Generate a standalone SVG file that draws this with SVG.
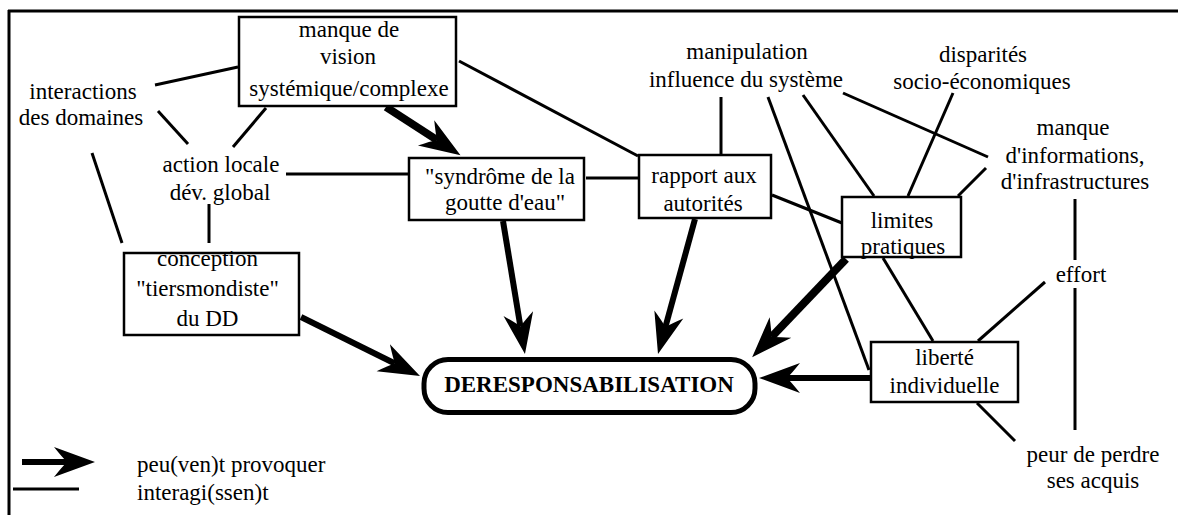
<svg xmlns="http://www.w3.org/2000/svg" width="1178" height="515" viewBox="0 0 1178 515">
<style>
text{font-family:"Liberation Serif","Times New Roman",serif;font-size:23px;fill:#000;text-anchor:middle}
.box{fill:#fff;stroke:#000;stroke-width:2.5}
.thin{stroke:#000;stroke-width:3;fill:none}
.thick{stroke:#000;stroke-width:6;fill:none;marker-end:url(#ah)}
.thicker{stroke:#000;stroke-width:8;fill:none;marker-end:url(#ah)}
.frame{stroke:#000;stroke-width:3;fill:none}
</style>
<defs>
<marker id="ah" markerUnits="userSpaceOnUse" viewBox="-15 -17 46 34" refX="0" refY="0" markerWidth="46" markerHeight="34" orient="auto" overflow="visible">
<path d="M28,0 L-13,-15 Q-5,-5 0,0 Q-5,5 -13,15 Z" fill="#000"/>
</marker>
</defs>
<rect width="1178" height="515" fill="#fff"/>
<g id="frame">
<line class="frame" x1="8" y1="11" x2="1178" y2="11"/>
<line class="frame" x1="9" y1="10" x2="9" y2="515"/>
</g>
<g id="connectors">
<line class="thin" x1="155" y1="85" x2="238" y2="67"/>
<line class="thin" x1="158" y1="111" x2="188" y2="144"/>
<line class="thin" x1="233" y1="147" x2="266" y2="108"/>
<line class="thin" x1="92" y1="153" x2="122" y2="243"/>
<line class="thin" x1="209" y1="204" x2="209" y2="243"/>
<line class="thin" x1="286" y1="174" x2="408" y2="174"/>
<line class="thin" x1="459" y1="61" x2="638" y2="156"/>
<line class="thin" x1="586" y1="178" x2="639" y2="178"/>
<line class="thin" x1="721" y1="155" x2="721" y2="97"/>
<line class="thin" x1="768" y1="97" x2="869" y2="370"/>
<line class="thin" x1="772" y1="195" x2="842" y2="223"/>
<line class="thin" x1="803" y1="95" x2="874" y2="196"/>
<line class="thin" x1="843" y1="93" x2="988" y2="157"/>
<line class="thin" x1="953" y1="93" x2="908" y2="196"/>
<line class="thin" x1="986" y1="168" x2="958" y2="196"/>
<line class="thin" x1="1075" y1="199" x2="1075" y2="260"/>
<line class="thin" x1="1075" y1="288" x2="1075" y2="430"/>
<line class="thin" x1="883" y1="258" x2="933" y2="341"/>
<line class="thin" x1="1045" y1="282" x2="978" y2="341"/>
<line class="thin" x1="977" y1="403" x2="1015" y2="441"/>
<line class="thicker" x1="386" y1="107" x2="437" y2="140"/>
<line class="thick" x1="503" y1="221" x2="520.4" y2="326.4"/>
<line class="thick" x1="695" y1="219" x2="665.4" y2="327"/>
<line class="thicker" x1="846" y1="259" x2="771.5" y2="336.9"/>
<line class="thick" x1="872" y1="378" x2="787" y2="378"/>
<line class="thick" x1="301" y1="317" x2="394.9" y2="363.5"/>
</g>
<g id="n-manque-vision">
<rect class="box" x="239" y="17" width="217" height="89"/>
<text x="349" y="37">manque de</text>
<text x="348" y="64">vision</text>
<text x="349" y="96">systémique/complexe</text>
</g>
<g id="n-interactions">
<text x="83" y="99">interactions</text>
<text x="81" y="125">des domaines</text>
</g>
<g id="n-action-locale">
<text x="221" y="172">action locale</text>
<text x="220" y="200">dév. global</text>
</g>
<g id="n-syndrome">
<rect class="box" x="409" y="158" width="175" height="62"/>
<text x="500" y="184">"syndrôme de la</text>
<text x="505" y="210">goutte d'eau"</text>
</g>
<g id="n-rapport">
<rect class="box" x="639" y="155" width="132" height="63"/>
<text x="704" y="183">rapport aux</text>
<text x="703" y="211">autorités</text>
</g>
<g id="n-manipulation">
<text x="747" y="59">manipulation</text>
<text x="746" y="87">influence du système</text>
</g>
<g id="n-disparites">
<text x="983" y="62">disparités</text>
<text x="982" y="89">socio-économiques</text>
</g>
<g id="n-manque-info">
<text x="1073" y="135">manque</text>
<text x="1075" y="163">d'informations,</text>
<text x="1075" y="189">d'infrastructures</text>
</g>
<g id="n-limites">
<rect class="box" x="842" y="197" width="119" height="60"/>
<text x="902" y="228">limites</text>
<text x="903" y="254">pratiques</text>
</g>
<g id="n-conception">
<rect class="box" x="124" y="253" width="175" height="82"/>
<text x="207.5" y="266">conception</text>
<text x="207.5" y="296">"tiersmondiste"</text>
<text x="207.5" y="326">du DD</text>
</g>
<g id="n-effort">
<text x="1081" y="282">effort</text>
</g>
<g id="n-liberte">
<rect class="box" x="871" y="342" width="147" height="60"/>
<text x="944.5" y="365">liberté</text>
<text x="944.5" y="393">individuelle</text>
</g>
<g id="n-peur">
<text x="1093" y="462">peur de perdre</text>
<text x="1093" y="488">ses acquis</text>
</g>
<g id="n-deresponsabilisation">
<rect x="424" y="359.5" width="331" height="53" rx="24" ry="24" fill="#fff" stroke="#000" stroke-width="5"/>
<text x="589" y="392" style="font-weight:bold">DERESPONSABILISATION</text>
</g>
<g id="legend">
<line class="thick" x1="22" y1="462" x2="67" y2="462"/>
<line class="thin" x1="13" y1="489" x2="79" y2="489"/>
<text x="137" y="472" style="text-anchor:start">peu(ven)t provoquer</text>
<text x="137" y="500" style="text-anchor:start">interagi(ssen)t</text>
</g>
</svg>
